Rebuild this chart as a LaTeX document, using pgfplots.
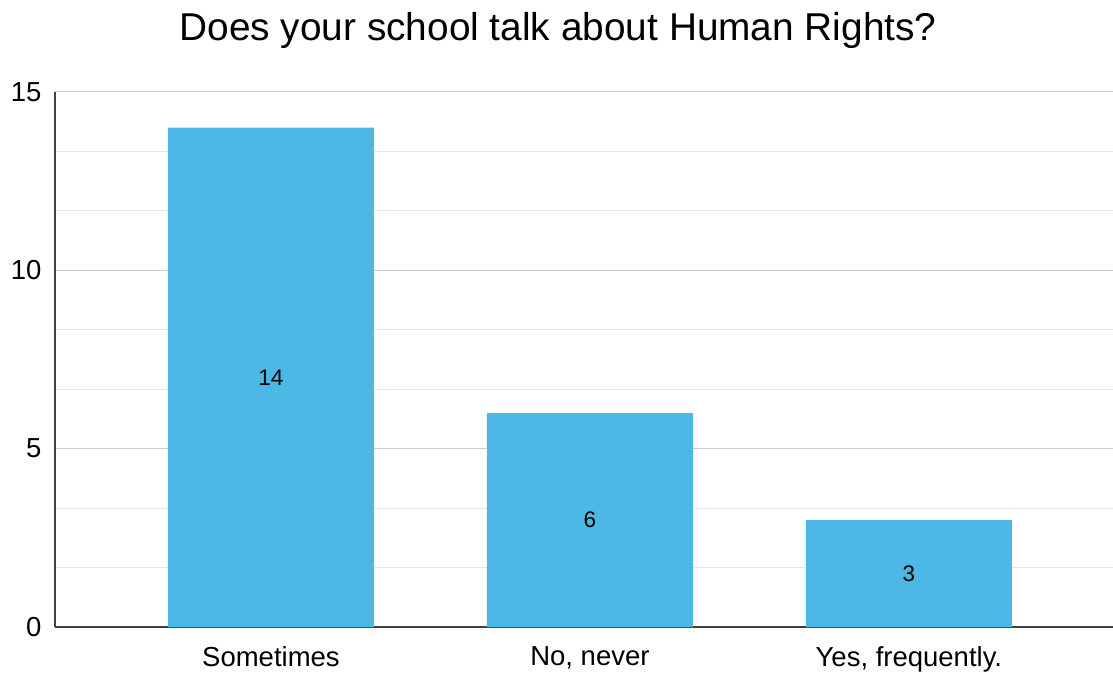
\documentclass[border=0pt]{standalone}
\usepackage{fontspec}
\setmainfont{Liberation Sans}
\usepackage{pgfplots}
\pgfplotsset{compat=1.18}
\definecolor{barblue}{HTML}{4DB8E5}
\definecolor{majgrid}{HTML}{CCCCCC}
\definecolor{mingrid}{HTML}{E6E6E6}
\begin{document}
\begin{tikzpicture}[x=1pt,y=1pt]
\path[use as bounding box] (0,0) rectangle (1113,673);
\node[font=\fontsize{38.8}{40}\selectfont, anchor=center] at (558,643) {Does your school talk about Human Rights?};
\begin{axis}[
  at={(55pt,46pt)}, anchor=south west,
  scale only axis, width=1058pt, height=535pt,
  xmin=-0.677, xmax=2.64, ymin=0, ymax=15,
  axis x line=bottom, axis y line=left,
  axis line style={draw=black!75, line width=1.2pt, -},
  xtick={0,1,2}, xticklabels={Sometimes, {No, never}, {Yes, frequently.}},
  ytick={0,5,10,15},
  minor ytick={1.6667,3.3333,6.6667,8.3333,11.6667,13.3333},
  ymajorgrids, yminorgrids,
  major grid style={majgrid, line width=1pt},
  minor grid style={mingrid, line width=1pt},
  major tick length=0pt, minor tick length=0pt,
  tick style={draw=none},
  /pgf/number format/assume math mode=true,
  ticklabel style={font=\fontsize{27.5}{30}\selectfont},
  yticklabel style={xshift=-10pt},
  xticklabel style={yshift=-16pt},
  clip=false,
]
\addplot[ybar, bar width=0.646, fill=barblue, draw=none] coordinates {(0,14) (1,6) (2,3)};
\addplot[draw=none, mark=none, nodes near coords, point meta=explicit symbolic,
  every node near coord/.style={anchor=center, font=\fontsize{22.5}{24}\selectfont, text=black}]
  coordinates {(0,7)[14] (1,3)[6] (2,1.5)[3]};
\end{axis}
\end{tikzpicture}
\end{document}
